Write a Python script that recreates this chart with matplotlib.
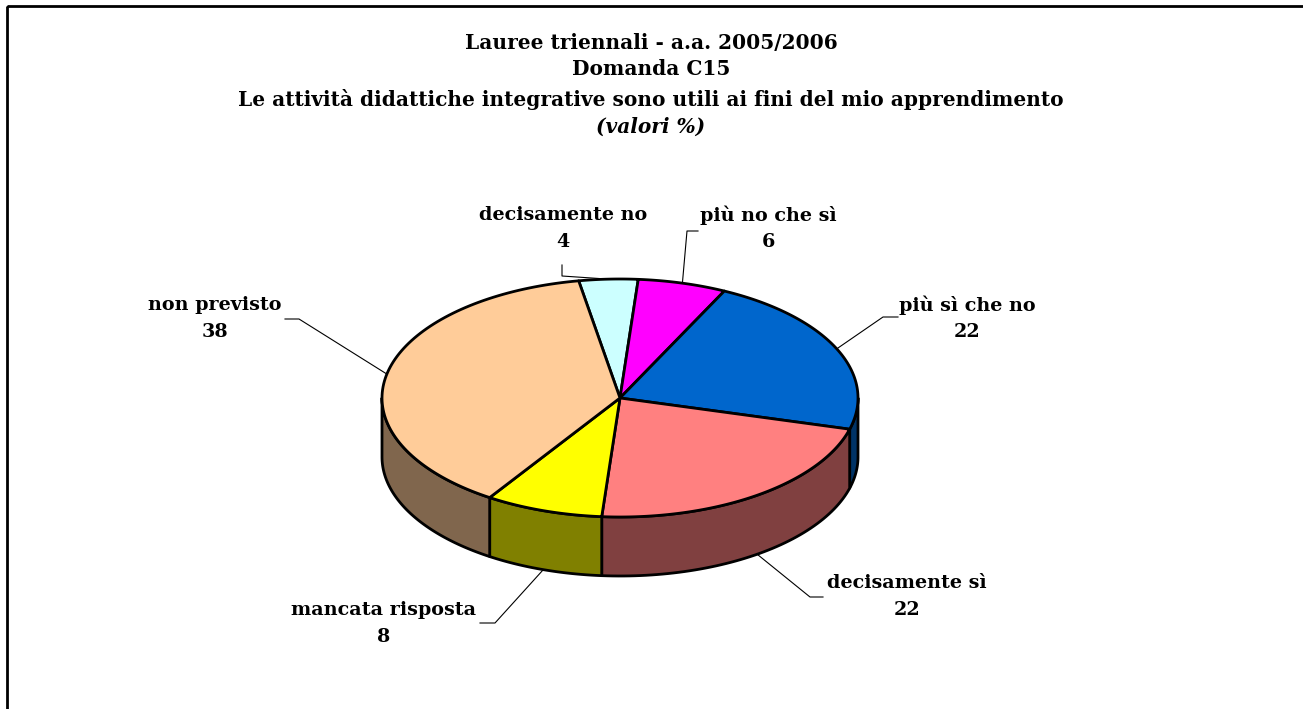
import numpy as np
import matplotlib.pyplot as plt
from matplotlib.patches import Polygon, Rectangle

labels = ['decisamente no', 'più no che sì', 'più sì che no',
          'decisamente sì', 'mancata risposta', 'non previsto']
values = [4, 6, 22, 22, 8, 38]
colors = ['#CCFFFF', '#FF00FF', '#0066CC', '#FF8080', '#FFFF00', '#FFCC99']

title_lines = ['Lauree triennali - a.a. 2005/2006',
               'Domanda C15',
               'Le attività didattiche integrative sono utili ai fini del mio apprendimento']
subtitle = '(valori %)'

# label placement (pixel space): text centre and elbow of leader line
label_pos = [(563, 215), (768, 215), (967, 305), (907, 583), (384, 610), (215, 305)]
elbows = [[(562, 265), (562, 276)],
          [(698, 231), (687, 231)],
          [(898, 317), (883, 317)],
          [(823, 597), (810, 597)],
          [(480, 623), (495, 623)],
          [(285, 319), (299, 319)]]

cx, cy, a, b, depth = 620, 398, 238, 119, 59
start = 100.0
FONT = 'DejaVu Serif'
FS_T = 14.5
FS = 13.8


def pt(t, dz=0):
    r = np.radians(t)
    return cx + a * np.cos(r), cy - b * np.sin(r) + dz


def darker(c):
    c = c.lstrip('#')
    rgb = [int(c[i:i + 2], 16) / 255 * 0.5 for i in (0, 2, 4)]
    return tuple(rgb)


fig = plt.figure(figsize=(13.03, 7.09), dpi=100)
ax = fig.add_axes([0, 0, 1, 1])
ax.set_xlim(0, 1303)
ax.set_ylim(709, 0)
ax.axis('off')

ax.add_patch(Rectangle((7, 6), 1310, 720, fill=False, lw=2, ec='black', zorder=0))

total = float(sum(values))
angles = []
t1 = start
for v in values:
    t2 = t1 - v / total * 360
    angles.append((t1, t2))
    t1 = t2

# side walls (front half only)
for (t1, t2), c in zip(angles, colors):
    for k in (-1, 0, 1):
        lo = max(t2, -180 + 360 * k)
        hi = min(t1, 0 + 360 * k)
        if hi - lo <= 0.01:
            continue
        ts = np.linspace(hi, lo, 60)
        top = [pt(t) for t in ts]
        bot = [pt(t, depth) for t in ts[::-1]]
        ax.add_patch(Polygon(top + bot, closed=True, fc=darker(c), ec='black',
                             lw=2, joinstyle='round', zorder=1))

# top faces
for (t1, t2), c in zip(angles, colors):
    ts = np.linspace(t1, t2, 100)
    verts = [(cx, cy)] + [pt(t) for t in ts]
    ax.add_patch(Polygon(verts, closed=True, fc=c, ec='black', lw=2,
                         joinstyle='round', zorder=2))

# labels + leader lines
for lab, v, (t1, t2), (lx, ly), el in zip(labels, values, angles, label_pos, elbows):
    mid = (t1 + t2) / 2
    front = np.sin(np.radians(mid)) < 0
    ax_, ay_ = pt(mid, depth if front else 0)
    xs = [p[0] for p in el] + [ax_]
    ys = [p[1] for p in el] + [ay_]
    ax.plot(xs, ys, color='black', lw=0.8, zorder=3)
    ax.text(lx, ly, lab, ha='center', va='center', family=FONT,
            weight='bold', fontsize=FS, zorder=4)
    ax.text(lx, ly + 27, '%d' % v, ha='center', va='center', family=FONT,
            weight='bold', fontsize=FS, zorder=4)

for y, s in zip([43, 69, 99], title_lines):
    ax.text(651, y, s, ha='center', va='center', family=FONT, weight='bold',
            fontsize=FS_T)
ax.text(651, 127, subtitle, ha='center', va='center', family=FONT,
        weight='bold', style='italic', fontsize=FS_T)

fig.savefig('out.png', dpi=100)
